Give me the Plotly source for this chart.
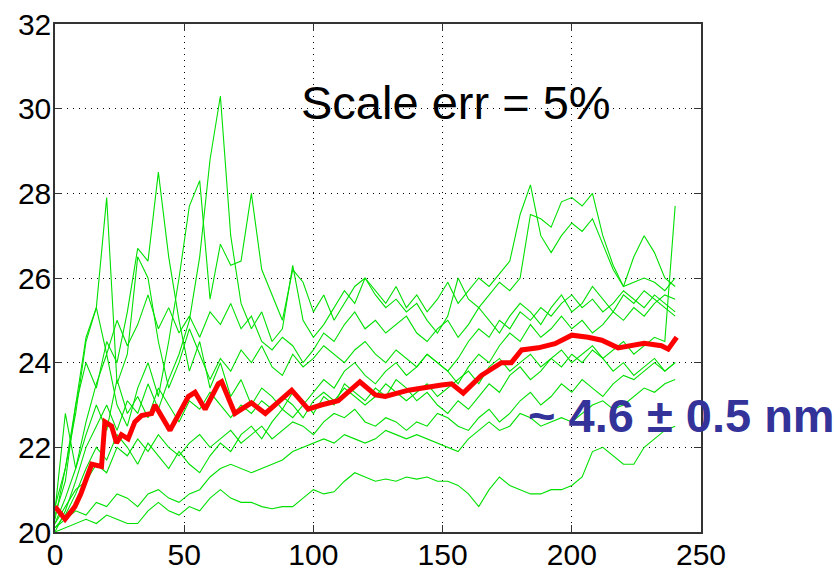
import plotly.graph_objects as go

# x positions of the individual (green) runs
x_runs = list(range(0, 241, 4))

run_a = [20.0, 20.1, 20.2, 20.3, 20.2, 20.4, 20.3, 20.2, 20.2, 20.5,
         20.7, 20.5, 20.4, 20.6, 20.5, 20.8, 21.0, 20.8, 20.7, 20.7,
         20.6, 20.55, 20.6, 20.6, 20.8, 21.0, 20.9, 20.95, 21.2, 21.4,
         21.3, 21.2, 21.25, 21.2, 21.3, 21.25, 21.3, 21.2, 21.2, 21.1,
         20.9, 20.6, 21.0, 21.3, 21.1, 21.0, 20.9, 20.9, 21.0, 21.0,
         21.1, 21.3, 21.9, 22.0, 21.8, 21.6, 21.6, 22.0, 22.2, 22.4,
         22.5]
run_b = [20.1, 20.3, 20.5, 20.4, 20.7, 20.6, 20.9, 20.8, 20.6, 20.9,
         21.0, 20.8, 20.7, 20.9, 21.0, 21.3, 21.5, 21.6, 21.5, 21.4,
         21.5, 21.6, 21.7, 21.9, 22.0, 22.1, 22.2, 22.1, 22.3, 22.2,
         22.1, 22.2, 22.4, 22.3, 22.2, 22.3, 22.2, 22.1, 22.0, 21.9,
         22.2, 22.4, 22.6, 22.4, 22.5, 22.8, 22.7, 22.5, 22.6, 22.7,
         22.6, 22.8, 23.0, 23.1, 22.9, 23.0, 23.2, 23.4, 23.3, 23.5,
         23.6]
run_c = [20.2, 20.6, 21.0, 21.2, 21.6, 21.4, 22.0, 21.8, 22.2, 21.9,
         22.3, 22.0, 21.8, 22.1, 22.3, 22.0, 22.2, 22.4, 22.1, 22.3,
         22.5, 22.2, 22.4, 22.6, 22.5, 22.3, 22.6, 22.8, 22.7, 22.9,
         22.6, 22.5, 22.7, 22.6, 22.4, 22.6, 22.5, 22.8, 22.7, 22.5,
         22.4, 22.7, 22.9, 22.6, 22.8, 23.1, 23.3, 23.0, 23.2, 23.5,
         23.3, 23.6, 23.4, 23.2, 23.5, 23.7, 23.6, 23.8, 24.0, 23.8,
         24.0]
run_d = [20.5, 22.8, 21.5, 22.3, 23.0, 22.4, 23.6, 22.8, 23.2, 22.7,
         23.4, 23.0, 22.6, 23.1, 22.9, 23.3, 23.0, 22.7, 23.0, 22.8,
         23.1, 22.9, 23.2, 23.0, 22.7, 23.1, 23.3, 23.1, 23.4, 23.2,
         23.0, 23.2, 23.5, 23.3, 23.1, 23.3, 23.5, 23.2, 23.4, 23.6,
         23.8, 23.5, 23.9, 24.1, 23.8, 24.0, 24.2, 23.9, 24.1, 24.3,
         24.0, 24.2, 24.4, 24.1, 24.3, 24.5, 24.2, 24.4, 24.6, 24.5,
         27.7]
run_e = [20.3, 21.5, 22.8, 24.5, 25.3, 24.2, 25.0, 24.4, 24.9, 25.6,
         24.8, 25.3, 24.7, 25.1, 24.6, 25.2, 24.9, 25.4, 24.8, 25.1,
         24.5, 24.3, 24.6, 24.4, 24.0, 24.3, 24.7, 24.5, 24.9, 25.2,
         24.8, 25.0, 24.7, 24.9, 25.1, 24.7, 24.5, 24.8, 25.0, 24.6,
         24.9, 25.3, 25.0, 24.7, 25.1, 25.4, 25.2, 24.9, 25.3, 25.6,
         25.2, 25.4, 25.8, 25.5, 25.2, 25.6, 25.4, 25.7, 25.5, 25.3,
         25.1]
run_f = [20.4, 21.2, 23.0, 24.6, 25.3, 27.9, 23.5, 24.2, 26.5, 26.0,
         24.5, 23.4, 24.0, 24.8, 24.2, 23.6, 24.1, 23.8, 24.3, 24.0,
         24.4, 23.9, 23.7, 24.2, 23.9, 24.1, 24.4, 24.2, 24.0, 24.3,
         24.5, 24.2, 24.0, 24.3, 24.1, 23.9, 24.2, 24.0, 23.8, 23.5,
         23.9, 24.2, 24.0, 24.4, 24.7, 24.5, 24.9, 24.6, 24.8, 25.1,
         24.8, 25.0, 24.7, 24.9, 25.2, 25.0, 25.3, 25.1, 25.4, 25.6,
         25.5]
run_g = [20.0, 20.5, 21.2, 22.0, 22.5, 23.0, 22.4, 23.1, 22.8, 23.5,
         22.9, 23.6, 24.2, 25.0, 26.5, 28.8, 30.3, 27.0, 25.4, 24.8,
         25.2, 24.5, 24.8, 26.3, 25.0, 24.6, 24.9, 25.3, 25.7, 25.4,
         26.0, 25.6, 25.3, 25.5, 25.2, 25.4, 25.0, 24.7, 25.1, 26.0,
         25.5, 25.3, 25.6, 25.9, 25.7, 26.0, 27.5, 27.4, 27.2, 27.8,
         27.9, 27.7, 28.0, 27.0, 26.3, 25.8, 25.9, 26.0, 25.9, 25.7,
         26.0]
run_h = [20.6, 21.5, 23.0, 24.0, 23.4, 24.5, 24.0, 25.2, 26.7, 26.4,
         28.5, 26.5, 25.0, 23.8, 24.5, 23.4, 24.0, 23.2, 23.6, 23.0,
         23.4, 23.2, 22.9, 23.3, 23.1, 22.8, 23.2, 23.0, 23.5, 23.3,
         23.1, 23.4, 23.2, 23.6, 23.4, 23.1, 23.3, 23.0, 22.8, 23.1,
         22.9, 23.2, 23.5, 23.3, 23.7, 23.9, 23.6, 23.8, 24.1, 23.9,
         24.2, 24.0, 24.3, 24.1, 23.8, 24.0, 23.7, 23.9, 24.1, 23.8,
         24.0]
run_i = [20.2, 20.8, 21.5, 22.6, 23.5, 24.2, 23.0, 22.5, 23.4, 24.0,
         23.2, 24.5, 26.0, 27.7, 28.3, 25.5, 26.8, 26.3, 26.4, 28.0,
         26.2, 25.6, 25.0, 26.2, 25.9, 25.2, 25.6, 25.0, 25.4, 25.8,
         26.0, 25.7, 25.4, 25.8, 25.3, 25.6, 25.2, 25.5, 25.9, 25.4,
         25.7, 26.0, 25.8, 26.1, 26.4, 27.5, 28.2, 27.0, 26.6, 27.0,
         27.3, 27.1, 27.4, 26.8, 26.2, 25.8, 26.5, 27.0, 26.6, 26.0,
         25.8]
run_j = [20.1, 20.4, 20.9, 21.5, 22.0, 21.7, 22.3, 22.0, 21.6, 22.1,
         21.8, 21.5, 21.9, 21.6, 21.4, 21.8, 22.1, 21.9, 22.3, 22.5,
         22.2, 22.6, 22.9, 22.7, 23.0, 23.3, 23.6, 23.4, 23.8, 24.0,
         23.7, 23.5, 23.8, 24.0, 23.7, 23.9, 24.2, 24.0, 23.8, 24.1,
         24.5, 24.8, 24.6, 25.0, 24.8, 25.2, 25.0, 25.3, 25.1, 25.4,
         25.6, 25.3, 25.5, 25.2, 25.4, 25.7, 25.5, 25.3, 25.6, 25.4,
         25.2]

runs = [run_a, run_b, run_c, run_d, run_e, run_f, run_g, run_h, run_i, run_j]

# mean curve (red)
mean_x = [0, 3.9, 7.7, 10, 14.2, 18, 19.3, 21.9, 23.8, 25.7, 28.3, 30.9, 33.5,
          37.4, 38.7, 44.5, 51.6, 54.2, 58.1, 63.2, 64.5, 69.6, 76, 81.4,
          91.6, 98, 103, 109.6, 118, 124, 127.8, 136.8, 149.6, 153.5, 158,
          165, 172.8, 176.6, 180.6, 187, 193.5, 200, 206.3, 211.6, 217.9,
          224.4, 228, 234.7, 237.3, 240.6]
mean_y = [20.6, 20.3, 20.6, 20.9, 21.6, 21.55, 22.6, 22.5, 22.1, 22.3, 22.2,
          22.6, 22.75, 22.8, 23.0, 22.4, 23.2, 23.3, 22.9, 23.5, 23.55, 22.8,
          23.05, 22.8, 23.35, 22.9, 23.0, 23.1, 23.55, 23.24, 23.2, 23.35,
          23.47, 23.5, 23.28, 23.7, 24.0, 24.0, 24.3, 24.35, 24.45, 24.65,
          24.6, 24.53, 24.35, 24.42, 24.46, 24.4, 24.32, 24.6]

x_ticks = [0, 50, 100, 150, 200, 250]
y_ticks = [20, 22, 24, 26, 28, 30, 32]

fig = go.Figure()
for r in runs:
    fig.add_trace(go.Scatter(x=x_runs, y=r, mode="lines",
                             line=dict(color="#00e000", width=1.1),
                             showlegend=False, hoverinfo="skip"))
fig.add_trace(go.Scatter(x=mean_x, y=mean_y, mode="lines",
                         line=dict(color="#ff0000", width=5),
                         showlegend=False))

font_family = "Arial, Liberation Sans, sans-serif"
axis_common = dict(
    automargin=False,
    showline=True, linecolor="#333333", linewidth=1.5, mirror="ticks",
    ticks="inside", ticklen=7, tickcolor="#333333", tickwidth=1.2,
    showgrid=True, gridcolor="#000000", griddash="1px,5px", gridwidth=1.2,
    zeroline=False,
    tickfont=dict(family=font_family, size=30, color="#000000"),
)

W, H = 840, 571
l, r, t, b = 55, 139, 24, 39
pw, ph = W - l - r, H - t - b


def to_paper(px, py):
    return (px - l) / pw, 1 - (py - t) / ph


sx, sy = to_paper(456, 103)
nx, ny = to_paper(681, 415)

fig.update_layout(
    width=W, height=H,
    margin=dict(l=l, r=r, t=t, b=b, autoexpand=False),
    paper_bgcolor="white", plot_bgcolor="white",
    xaxis=dict(range=[0, 250], tickvals=x_ticks, ticklabelstandoff=-5, **axis_common),
    yaxis=dict(range=[20, 32], tickvals=y_ticks, ticklabelstandoff=-4, **axis_common),
    annotations=[
        dict(text="Scale err = 5%", x=sx, y=sy, xref="paper", yref="paper",
             xanchor="center", yanchor="middle", showarrow=False,
             font=dict(family=font_family, size=47, color="#000000")),
        dict(text="<b>~ 4.6 ± 0.5 nm</b>", x=nx, y=ny, xref="paper", yref="paper",
             xanchor="center", yanchor="middle", showarrow=False,
             font=dict(family=font_family, size=47, color="#333399")),
    ],
)

fig.write_html("out.html", config={"displayModeBar": False})

# remove the default page margin so the figure sits at the window's corner
with open("out.html", "r", encoding="utf-8") as fh:
    html = fh.read()
html = html.replace("<head>", "<head><style>html,body{margin:0;padding:0;overflow:hidden;}</style>", 1)
with open("out.html", "w", encoding="utf-8") as fh:
    fh.write(html)
